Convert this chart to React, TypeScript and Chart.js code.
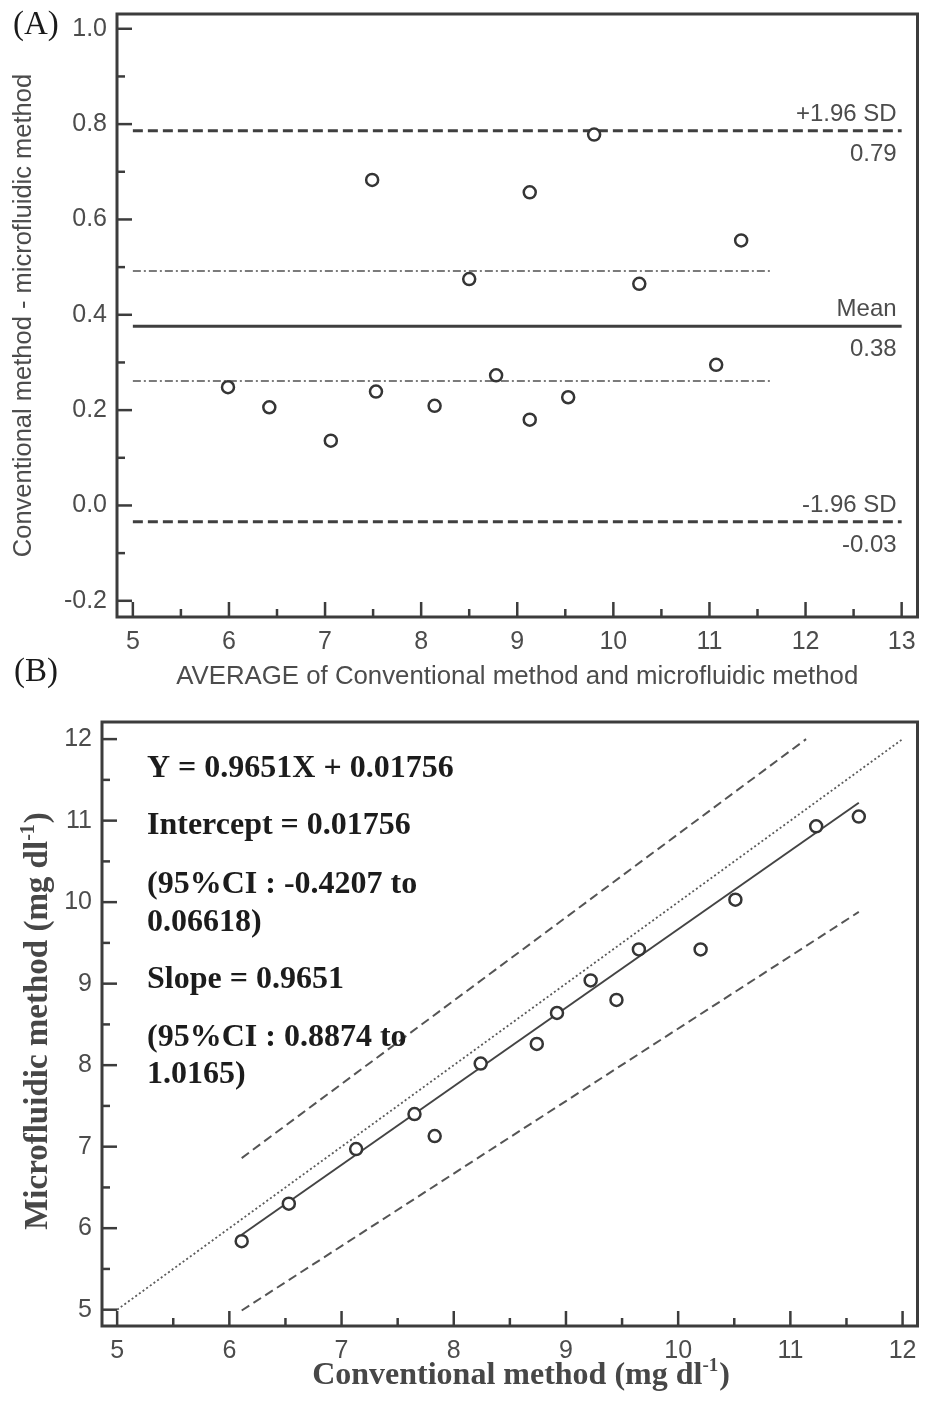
import React, { useEffect, useRef } from 'react';
import { Chart, registerables } from 'chart.js';

Chart.register(...registerables);

// ---------------- Panel A (Bland-Altman) data ----------------
const avgValues = [5.99, 6.42, 7.06, 7.49, 7.53, 8.14, 8.5, 8.78, 9.13, 9.13, 9.53, 9.8, 10.27, 11.07, 11.33];
const diffValues = [0.248, 0.206, 0.136, 0.683, 0.239, 0.209, 0.475, 0.273, 0.657, 0.18, 0.227, 0.778, 0.465, 0.295, 0.556];
const refLineNames = ['+1.96 SD', 'Mean', '-1.96 SD'];
const refLineValueLabels = ['0.79', '0.38', '-0.03'];
const refLineValues = [0.786, 0.376, -0.034];
const meanCIValues = [0.492, 0.261];
const refLineExtentX = [5, 13];
const meanCIExtentX = [5, 11.65];
const aXTicks = [5, 6, 7, 8, 9, 10, 11, 12, 13];
const aXMinorTicks = [5.5, 6.5, 7.5, 8.5, 9.5, 10.5, 11.5, 12.5];
const aYTicks = [-0.2, 0, 0.2, 0.4, 0.6, 0.8, 1.0];
const aYMinorTicks = [-0.1, 0.1, 0.3, 0.5, 0.7, 0.9];
const aXTitle = 'AVERAGE of Conventional method and microfluidic method';
const aYTitle = 'Conventional method - microfluidic method';

// ---------------- Panel B (regression) data ----------------
const convValues = [6.11, 6.53, 7.13, 7.65, 7.83, 8.24, 8.74, 8.92, 9.22, 9.45, 9.65, 10.2, 10.51, 11.23, 11.61];
const microValues = [5.84, 6.3, 6.97, 7.4, 7.13, 8.02, 8.26, 8.64, 9.04, 8.8, 9.42, 9.42, 10.03, 10.93, 11.05];
const identityX = [5, 12];
const identityY = [5, 12];
const regLineX = [6.11, 11.61];
const regLineY = [5.92, 11.22];
const upperBandX = [6.11, 11.14];
const upperBandY = [6.86, 12.0];
const lowerBandX = [6.11, 11.61];
const lowerBandY = [4.99, 9.88];
const bXTicks = [5, 6, 7, 8, 9, 10, 11, 12];
const bXMinorTicks = [5.5, 6.5, 7.5, 8.5, 9.5, 10.5, 11.5];
const bYTicks = [5, 6, 7, 8, 9, 10, 11, 12];
const bYMinorTicks = [5.5, 6.5, 7.5, 8.5, 9.5, 10.5, 11.5];
const equationLines = [
  'Y = 0.9651X + 0.01756',
  'Intercept = 0.01756',
  '(95%CI : -0.4207 to',
  '0.06618)',
  'Slope = 0.9651',
  '(95%CI : 0.8874 to',
  '1.0165)',
];
const bXTitle = ['Conventional method (mg dl', '-1', ')'];
const bYTitle = ['Microfluidic method (mg dl', '-1', ')'];

// ---------------- styling / layout ----------------
const SANS = '"Liberation Sans", Arial, sans-serif';
const SERIF = '"Liberation Serif", "Times New Roman", serif';
const TEXT_GRAY = '#4c4c4c';
const FRAME = '#3c3c3c';
const W = 926;
const HA = 700;
const HB = 703;
const equationBaselines = [77, 134, 193, 231, 288, 346, 383];

const pts = (xs: number[], ys: number[]) => xs.map((x, i) => ({ x, y: ys[i] }));

const lineDs = (data: any[], color: string, width: number, dash: number[], order = 1) => ({
  data,
  showLine: true,
  borderColor: color,
  borderWidth: width,
  borderDash: dash,
  borderCapStyle: 'butt',
  pointRadius: 0,
  pointHoverRadius: 0,
  fill: false,
  tension: 0,
  order,
});

const frameTicksPlugin = (xMajor: number[], xMinor: number[], yMajor: number[], yMinor: number[]) => ({
  id: 'frameTicks',
  afterDatasetsDraw(chart: any) {
    const { ctx, chartArea } = chart;
    const { left, top, right, bottom } = chartArea;
    const xs = chart.scales.x;
    const ys = chart.scales.y;
    ctx.save();
    ctx.strokeStyle = FRAME;
    ctx.lineWidth = 2.5;
    ctx.lineCap = 'butt';
    const vt = (v: number, len: number) => {
      const px = xs.getPixelForValue(v);
      ctx.beginPath();
      ctx.moveTo(px, bottom);
      ctx.lineTo(px, bottom - len);
      ctx.stroke();
    };
    const ht = (v: number, len: number) => {
      const py = ys.getPixelForValue(v);
      ctx.beginPath();
      ctx.moveTo(left, py);
      ctx.lineTo(left + len, py);
      ctx.stroke();
    };
    xMajor.forEach((v) => vt(v, 15));
    xMinor.forEach((v) => vt(v, 8));
    yMajor.forEach((v) => ht(v, 15));
    yMinor.forEach((v) => ht(v, 8));
    ctx.lineWidth = 3;
    ctx.strokeRect(left, top, right - left, bottom - top);
    ctx.restore();
  },
});

const baseTicks = (fmt: (v: number) => string) => ({
  padding: 10,
  autoSkip: false,
  maxRotation: 0,
  minRotation: 0,
  color: TEXT_GRAY,
  font: { family: SANS, size: 25 },
  callback: (v: any) => fmt(Number(v)),
});

function PanelA() {
  const ref = useRef<HTMLCanvasElement | null>(null);
  useEffect(() => {
    if (!ref.current) return;
    const labelsPlugin = {
      id: 'aLabels',
      afterDraw(chart: any) {
        const { ctx } = chart;
        const xs = chart.scales.x;
        const ys = chart.scales.y;
        ctx.save();
        ctx.fillStyle = TEXT_GRAY;
        ctx.font = `24px ${SANS}`;
        ctx.textAlign = 'right';
        ctx.textBaseline = 'alphabetic';
        const rx = xs.getPixelForValue(refLineExtentX[1]) - 5;
        refLineValues.forEach((v, i) => {
          const py = ys.getPixelForValue(v);
          ctx.fillText(refLineNames[i], rx, py - 10);
          ctx.fillText(refLineValueLabels[i], rx, py + 30);
        });
        ctx.fillStyle = '#1a1a1a';
        ctx.font = `33px ${SERIF}`;
        ctx.textAlign = 'left';
        ctx.fillText('(A)', 13, 34);
        ctx.fillText('(B)', 14, 681);
        ctx.restore();
      },
    };
    const refStyles = [
      { color: '#3f3f3f', width: 3, dash: [10, 5] },
      { color: '#3f3f3f', width: 3, dash: [] },
      { color: '#3f3f3f', width: 3, dash: [10, 5] },
    ];
    const datasets: any[] = [
      {
        data: pts(avgValues, diffValues),
        pointRadius: 6,
        pointHoverRadius: 6,
        pointBorderWidth: 2.5,
        pointBorderColor: '#353535',
        pointBackgroundColor: '#ffffff',
        showLine: false,
        order: 0,
      },
      ...refLineValues.map((v, i) =>
        lineDs(pts(refLineExtentX, [v, v]), refStyles[i].color, refStyles[i].width, refStyles[i].dash)
      ),
      ...meanCIValues.map((v) => lineDs(pts(meanCIExtentX, [v, v]), '#505050', 1.6, [8, 3, 2, 3])),
    ];
    const chart = new Chart(ref.current, {
      type: 'scatter',
      data: { datasets },
      options: {
        animation: false,
        responsive: false,
        events: [],
        layout: { padding: { top: 14, right: 3, left: 0, bottom: 0 } },
        plugins: { legend: { display: false }, tooltip: { enabled: false } },
        scales: {
          x: {
            type: 'linear',
            min: 4.835,
            max: 13.165,
            afterBuildTicks: (s: any) => {
              s.ticks = aXTicks.map((value) => ({ value }));
            },
            afterFit: (s: any) => {
              s.height = HA - 617;
              s.paddingLeft = 0;
              s.paddingRight = 0;
            },
            ticks: baseTicks((v) => String(v)),
            grid: { display: false, drawTicks: false },
            border: { display: false },
            title: {
              display: true,
              text: aXTitle,
              color: TEXT_GRAY,
              font: { family: SANS, size: 25.8 },
              padding: { top: 0, bottom: 8 },
            },
          },
          y: {
            type: 'linear',
            min: -0.234,
            max: 1.031,
            afterBuildTicks: (s: any) => {
              s.ticks = aYTicks.map((value) => ({ value }));
            },
            afterFit: (s: any) => {
              s.width = 117;
              s.paddingTop = 0;
              s.paddingBottom = 0;
            },
            ticks: baseTicks((v) => v.toFixed(1)),
            grid: { display: false, drawTicks: false },
            border: { display: false },
            title: {
              display: true,
              text: aYTitle,
              color: TEXT_GRAY,
              font: { family: SANS, size: 25.5 },
              padding: { top: 9, bottom: 0 },
            },
          },
        },
      } as any,
      plugins: [frameTicksPlugin(aXTicks, aXMinorTicks, aYTicks, aYMinorTicks), labelsPlugin],
    });
    return () => chart.destroy();
  }, []);
  return <canvas ref={ref} width={W} height={HA} style={{ position: 'absolute', left: 0, top: 0, width: W, height: HA }} />;
}

function drawSupTitle(ctx: any, parts: string[], x: number, y: number, rot: number, size: number) {
  ctx.save();
  ctx.translate(x, y);
  ctx.rotate(rot);
  const f = `bold ${size}px ${SERIF}`;
  const fs = `bold ${Math.round(size * 0.6)}px ${SERIF}`;
  ctx.font = f;
  const w1 = ctx.measureText(parts[0]).width;
  const w3 = ctx.measureText(parts[2]).width;
  ctx.font = fs;
  const w2 = ctx.measureText(parts[1]).width + 1;
  let cx = -(w1 + w2 + w3) / 2;
  ctx.textAlign = 'left';
  ctx.textBaseline = 'alphabetic';
  ctx.font = f;
  ctx.fillText(parts[0], cx, 0);
  cx += w1;
  ctx.font = fs;
  ctx.fillText(parts[1], cx, -size * 0.4);
  cx += w2;
  ctx.font = f;
  ctx.fillText(parts[2], cx, 0);
  ctx.restore();
}

function PanelB() {
  const ref = useRef<HTMLCanvasElement | null>(null);
  useEffect(() => {
    if (!ref.current) return;
    const textPlugin = {
      id: 'bText',
      afterDraw(chart: any) {
        const { ctx } = chart;
        ctx.save();
        ctx.fillStyle = '#1c1c1c';
        ctx.font = `bold 32px ${SERIF}`;
        ctx.textAlign = 'left';
        ctx.textBaseline = 'alphabetic';
        equationLines.forEach((t, i) => ctx.fillText(t, 147, equationBaselines[i]));
        ctx.fillStyle = '#474747';
        drawSupTitle(ctx, bXTitle, 521, 684, 0, 32);
        drawSupTitle(ctx, bYTitle, 47, 321, -Math.PI / 2, 33);
        ctx.restore();
      },
    };
    const datasets: any[] = [
      {
        data: pts(convValues, microValues),
        pointRadius: 6,
        pointHoverRadius: 6,
        pointBorderWidth: 2.5,
        pointBorderColor: '#353535',
        pointBackgroundColor: '#ffffff',
        showLine: false,
        order: 0,
      },
      lineDs(pts(identityX, identityY), '#5a5a5a', 1.8, [2, 2.5]),
      lineDs(pts(regLineX, regLineY), '#444444', 2, []),
      lineDs(pts(upperBandX, upperBandY), '#555555', 2, [9, 5]),
      lineDs(pts(lowerBandX, lowerBandY), '#555555', 2, [9, 5]),
    ];
    const chart = new Chart(ref.current, {
      type: 'scatter',
      data: { datasets },
      options: {
        animation: false,
        responsive: false,
        events: [],
        layout: { padding: { top: 22, right: 3, left: 0, bottom: 0 } },
        plugins: { legend: { display: false }, tooltip: { enabled: false } },
        scales: {
          x: {
            type: 'linear',
            min: 4.865,
            max: 12.133,
            afterBuildTicks: (s: any) => {
              s.ticks = bXTicks.map((value) => ({ value }));
            },
            afterFit: (s: any) => {
              s.height = HB - 626;
              s.paddingLeft = 0;
              s.paddingRight = 0;
            },
            ticks: baseTicks((v) => String(v)),
            grid: { display: false, drawTicks: false },
            border: { display: false },
            title: { display: false },
          },
          y: {
            type: 'linear',
            min: 4.8,
            max: 12.21,
            afterBuildTicks: (s: any) => {
              s.ticks = bYTicks.map((value) => ({ value }));
            },
            afterFit: (s: any) => {
              s.width = 102;
              s.paddingTop = 0;
              s.paddingBottom = 0;
            },
            ticks: baseTicks((v) => String(v)),
            grid: { display: false, drawTicks: false },
            border: { display: false },
            title: { display: false },
          },
        },
      } as any,
      plugins: [frameTicksPlugin(bXTicks, bXMinorTicks, bYTicks, bYMinorTicks), textPlugin],
    });
    return () => chart.destroy();
  }, []);
  return <canvas ref={ref} width={W} height={HB} style={{ position: 'absolute', left: 0, top: HA, width: W, height: HB }} />;
}

export default function App() {
  return (
    <div style={{ position: 'absolute', left: 0, top: 0, width: W, height: HA + HB, background: '#ffffff' }}>
      <PanelA />
      <PanelB />
    </div>
  );
}
